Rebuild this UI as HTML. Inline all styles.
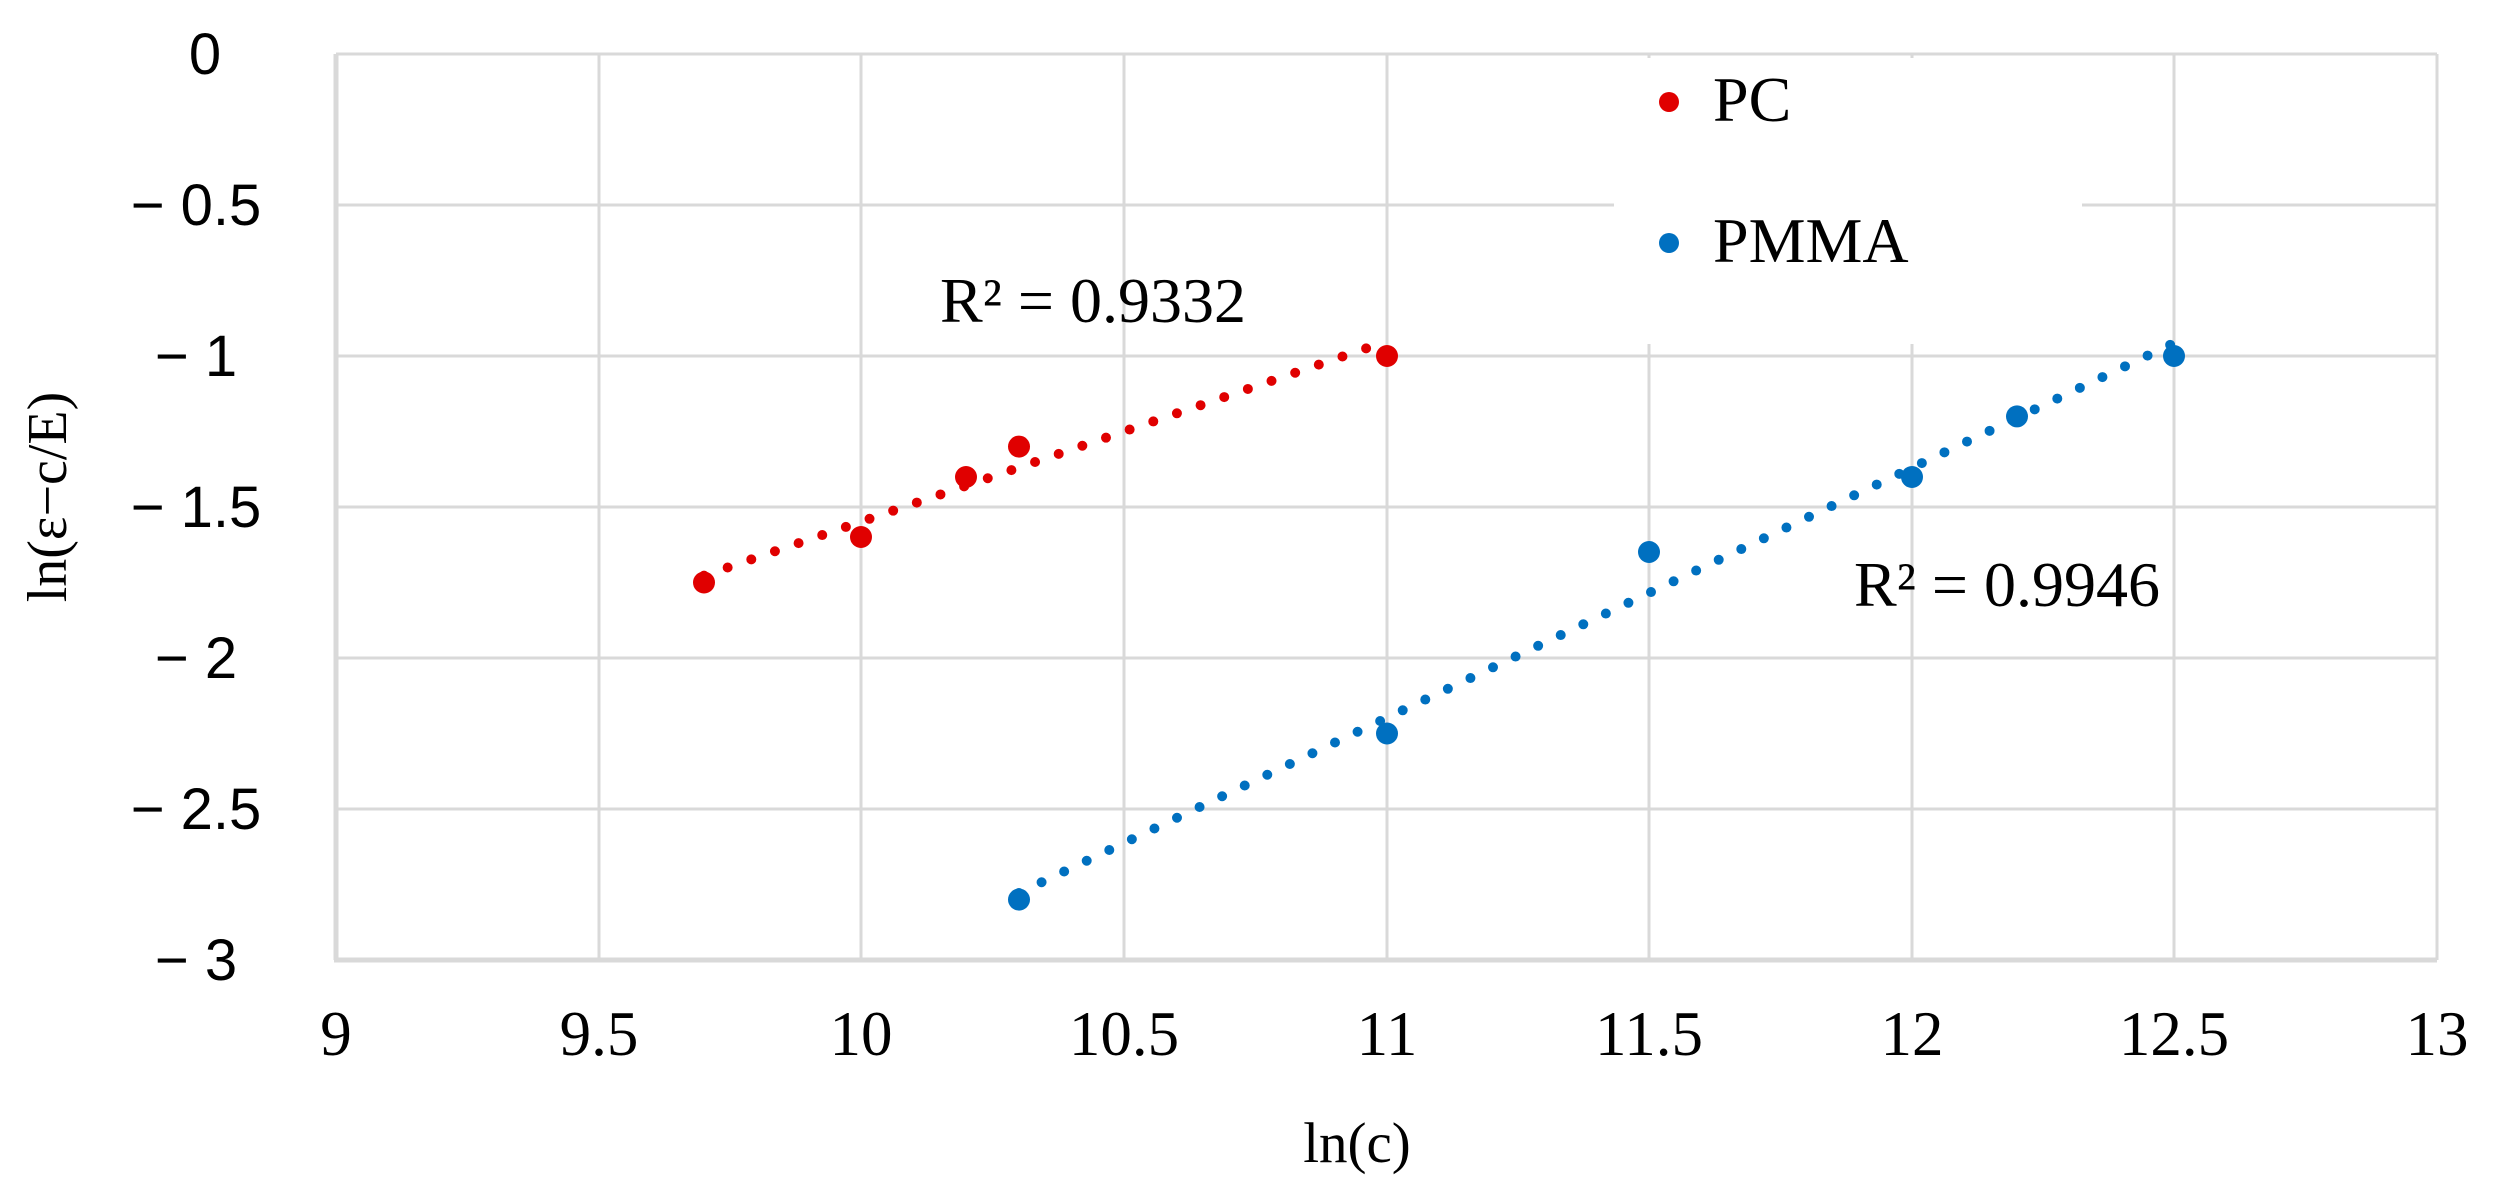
<!DOCTYPE html>
<html><head><meta charset="utf-8"><style>
html,body{margin:0;padding:0;background:#fff;}
svg{display:block;}
.st{font-family:"Liberation Serif",serif;fill:#000;}
.ss{font-family:"Liberation Sans",sans-serif;fill:#000;}
</style></head><body>
<svg width="2494" height="1195" viewBox="0 0 2494 1195" xmlns="http://www.w3.org/2000/svg">
<rect width="2494" height="1195" fill="#fff"/>
<g stroke="#d9d9d9" stroke-width="3" fill="none">
<line x1="336" y1="54" x2="2437" y2="54"/>
<line x1="336" y1="205" x2="2437" y2="205"/>
<line x1="336" y1="356" x2="2437" y2="356"/>
<line x1="336" y1="507" x2="2437" y2="507"/>
<line x1="336" y1="658" x2="2437" y2="658"/>
<line x1="336" y1="809" x2="2437" y2="809"/>
<line x1="336" y1="54" x2="336" y2="960"/>
<line x1="599" y1="54" x2="599" y2="960"/>
<line x1="861" y1="54" x2="861" y2="960"/>
<line x1="1124" y1="54" x2="1124" y2="960"/>
<line x1="1387" y1="54" x2="1387" y2="960"/>
<line x1="1649" y1="54" x2="1649" y2="960"/>
<line x1="1912" y1="54" x2="1912" y2="960"/>
<line x1="2174" y1="54" x2="2174" y2="960"/>
<line x1="2437" y1="54" x2="2437" y2="960"/>
<line x1="334" y1="960" x2="2437" y2="960" stroke-width="5"/>
<line x1="336" y1="54" x2="336" y2="960" stroke-width="5"/>
</g>
<rect x="1614" y="58" width="468" height="286" fill="#fff"/>
<line x1="704" y1="575.6" x2="1376" y2="345" stroke="#e00000" stroke-width="10" stroke-linecap="round" stroke-dasharray="0 25"/>
<line x1="1019" y1="893" x2="2174" y2="343" stroke="#0070c0" stroke-width="10" stroke-linecap="round" stroke-dasharray="0 25"/>
<g fill="#e00000">
<circle cx="704" cy="582.5" r="11"/>
<circle cx="861" cy="537" r="11"/>
<circle cx="966" cy="477" r="11"/>
<circle cx="1019" cy="446.6" r="11"/>
<circle cx="1387" cy="356" r="11"/>
</g>
<g fill="#0070c0">
<circle cx="1019" cy="899.6" r="11"/>
<circle cx="1387" cy="733.5" r="11"/>
<circle cx="1649" cy="552" r="11"/>
<circle cx="1912" cy="477" r="11"/>
<circle cx="2017" cy="416.4" r="11"/>
<circle cx="2174" cy="356" r="11"/>
</g>
<circle cx="1669" cy="102" r="10" fill="#e00000"/>
<text class="st" x="1713" y="121" font-size="64">PC</text>
<circle cx="1669" cy="243" r="10" fill="#0070c0"/>
<text class="st" x="1713" y="262" font-size="64">PMMA</text>
<text class="st" x="940" y="322" font-size="64">R² = 0.9332</text>
<text class="st" x="1854" y="606" font-size="64">R² = 0.9946</text>
<g class="ss" font-size="58" text-anchor="middle">
<text x="205" y="74">0</text>
<text x="196" y="225">− 0.5</text>
<text x="196" y="376">− 1</text>
<text x="196" y="527">− 1.5</text>
<text x="196" y="678">− 2</text>
<text x="196" y="829">− 2.5</text>
<text x="196" y="980">− 3</text>
</g>
<g class="st" font-size="63" text-anchor="middle">
<text x="336" y="1055">9</text>
<text x="599" y="1055">9.5</text>
<text x="861" y="1055">10</text>
<text x="1124" y="1055">10.5</text>
<text x="1387" y="1055">11</text>
<text x="1649" y="1055">11.5</text>
<text x="1912" y="1055">12</text>
<text x="2174" y="1055">12.5</text>
<text x="2437" y="1055">13</text>
</g>
<text class="st" x="1357" y="1162" font-size="57" text-anchor="middle">ln(c)</text>
<text class="st" font-size="56" text-anchor="middle" transform="translate(66,497) rotate(-90)">ln(ε−c/E)</text>
</svg>
</body></html>
